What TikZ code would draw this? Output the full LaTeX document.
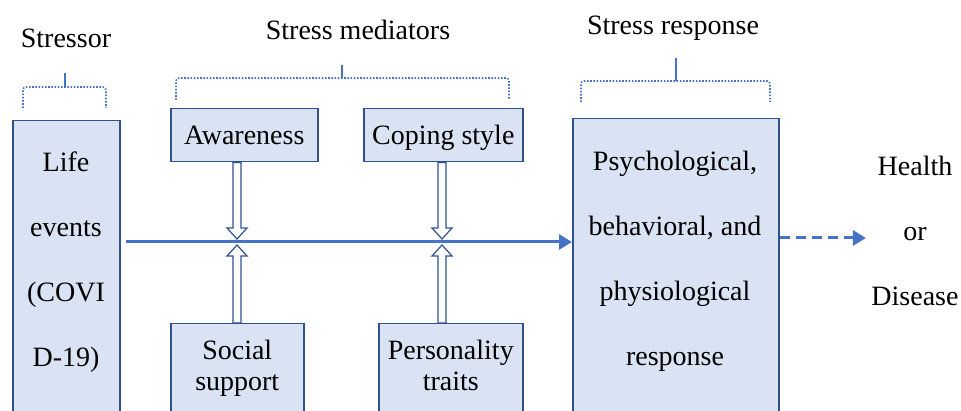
\documentclass[tikz,border=0pt]{standalone}
\usepackage{fontspec}
\setmainfont{Liberation Serif}
\usetikzlibrary{arrows.meta, calc}

\definecolor{boxline}{RGB}{47,82,143}
\definecolor{boxfill}{RGB}{218,227,243}
\definecolor{flow}{RGB}{68,114,196}

\tikzset{
  box/.style={draw=boxline, fill=boxfill, line width=1.5pt, inner sep=0pt},
  brace/.style={draw=flow, line width=1.6pt, dash pattern=on 1.6pt off 1.6pt, rounded corners=3pt},
  tick/.style={draw=flow, line width=1.4pt},
  hollow/.style={draw=boxline, fill=white, line width=1.2pt, line join=miter},
  flowarrow/.style={draw=flow, line width=3pt, -{Triangle[length=13pt,width=15pt]}},
  lines/.style={align=center, font=\fontsize{28}{65}\selectfont},
  tight/.style={align=center, font=\fontsize{28}{31}\selectfont},
}

% hollow block arrow: start, junction, direction (1 up, -1 down)
\newcommand\hollowarrow[3]{%
  \draw[hollow] ($(#1)+(-4,0)$) -- ($(#2)+(-4,-14*#3)$) -- ($(#2)+(-10,-14*#3)$)
    -- ($(#2)+(0,-3*#3)$) -- ($(#2)+(10,-14*#3)$) -- ($(#2)+(4,-14*#3)$)
    -- ($(#1)+(4,0)$) -- cycle;}

\begin{document}
\begin{tikzpicture}[x=1pt, y=1pt, font=\fontsize{28}{34}\selectfont]
  \useasboundingbox (0,0) rectangle (961,411);
  \clip (0,0) rectangle (961,411);
  % titles
  \node[anchor=base] (stressor) at (66,363) {Stressor};
  \node[anchor=base] (mediators) at (358,371) {Stress mediators};
  \node[anchor=base] (response) at (673,376) {Stress response};
  % braces
  \draw[brace] (23,303) -- (23,324) -- (106,324) -- (106,303);
  \draw[tick] (65,324) -- (65,338);
  \draw[brace] (176,311) -- (176,333) -- (509,333) -- (509,311);
  \draw[tick] (342,333) -- (342,346);
  \draw[brace] (581,309) -- (581,330) -- (770,330) -- (770,309);
  \draw[tick] (676,330) -- (676,353);
  % boxes
  \node[box, anchor=north west, minimum width=107pt, minimum height=311pt] (life) at (12,291) {};
  \node[box, anchor=north west, minimum width=206pt, minimum height=311pt] (resp) at (572,293) {};
  \node[box, anchor=north west, minimum width=147pt, minimum height=53pt,
        text height=19pt, text depth=0pt] (aw) at (170,303) {Awareness};
  \node[box, anchor=north west, minimum width=159pt, minimum height=53pt,
        text height=19pt, text depth=0pt] (cope) at (363,303) {Coping style};
  \node[box, anchor=north west, minimum width=133pt, minimum height=110pt] (ss) at (170,88) {};
  \node[box, anchor=north west, minimum width=144pt, minimum height=110pt] (pers) at (378,88) {};
  % box texts (base = last line)
  \node[lines, anchor=base] (lifetxt) at (66,44) {Life\\events\\(COVI\\D-19)};
  \node[lines, anchor=base] (resptxt) at (675,45) {Psychological,\\behavioral, and\\physiological\\response};
  \node[lines, anchor=base] (outcome) at (915,105) {Health\\or\\Disease};
  \node[tight, anchor=base] (sstxt) at (ss.north |- 0,20) {Social\\support};
  \node[tight, anchor=base] (perstxt) at (pers.north |- 0,20) {Personality\\traits};
  % flow
  \coordinate (j1) at (237,169);
  \coordinate (j2) at (442,169);
  \draw[flowarrow, shorten <=5pt] (life.east |- j1) -- (resp.west |- j1);
  \draw[flowarrow, dash pattern=on 10pt off 6pt, shorten >=2pt] (resp.east |- 0,173) -- (outcome.west |- 0,173);
  \hollowarrow{aw.south -| j1}{j1}{-1}
  \hollowarrow{ss.north -| j1}{j1}{1}
  \hollowarrow{cope.south -| j2}{j2}{-1}
  \hollowarrow{pers.north -| j2}{j2}{1}
\end{tikzpicture}
\end{document}
